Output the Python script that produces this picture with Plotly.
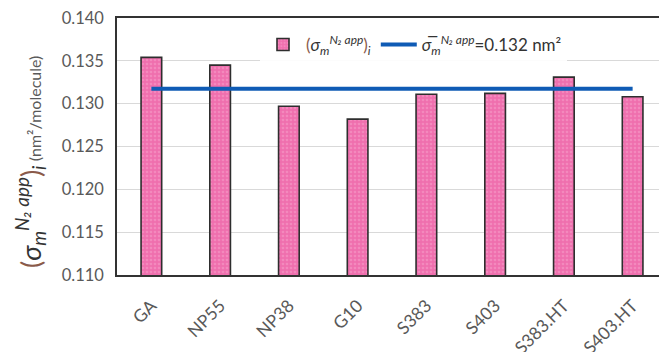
import plotly.graph_objects as go

categories = ["GA", "NP55", "NP38", "G10", "S383", "S403", "S383.HT", "S403.HT"]
values = [0.1354, 0.1345, 0.1297, 0.1282, 0.1311, 0.1312, 0.1331, 0.1308]
mean_value = 0.13175
y_ticks = [0.110, 0.115, 0.120, 0.125, 0.130, 0.135, 0.140]

paren = "#8a5a4a"
bar_name = ('<span style="color:%s">(</span><i>σ<sub>m</sub><sup>N₂ app</sup></i>'
            '<span style="color:%s">)</span><sub><i>i</i></sub>') % (paren, paren)
line_name = '<i>σ̅<sub>m</sub><sup>N₂ app</sup></i>=0.132 nm²'
y_title = ('<span style="font-size:27px;color:#333">' + bar_name + '</span>'
           ' <span style="font-size:16px;color:#595959">(nm²/molecule)</span>')

fig = go.Figure()
fig.add_trace(go.Bar(
    x=categories, y=values, name=bar_name, width=0.3,
    marker=dict(color="#EF6FAE", line=dict(color="#2e2e2e", width=1.6),
                pattern=dict(shape=".", bgcolor="#EF6FAE", fgcolor="#F7A3CC",
                             size=4, solidity=0.35)),
))
fig.add_trace(go.Scatter(
    x=categories, y=[mean_value] * len(categories), name=line_name,
    mode="lines", line=dict(color="#0F5BB5", width=4),
))

fig.add_annotation(
    text=y_title, textangle=-90, showarrow=False,
    xref="paper", yref="paper", x=-0.158, y=0.44,
    xanchor="center", yanchor="middle",
)

fig.update_layout(
    width=659, height=344,
    margin=dict(l=109, r=0, t=10, b=77, autoexpand=False),
    paper_bgcolor="white", plot_bgcolor="white",
    font=dict(family="Lato, sans-serif", color="#595959", size=17),
    bargap=0.7,
    showlegend=True,
    legend=dict(orientation="h", x=0.26, y=0.965, xanchor="left", yanchor="top",
                bgcolor="rgba(255,255,255,0.9)", font=dict(size=17, color="#333333"),
                itemwidth=36, tracegroupgap=0),
    xaxis=dict(showline=True, linecolor="#333333", linewidth=1.5, mirror=True,
               automargin=False, ticks="", tickangle=-45, ticklabelstandoff=12,
               tickfont=dict(size=17.5, color="#595959")),
    yaxis=dict(range=[0.110, 0.140], tickvals=y_ticks, tickformat=".3f",
               automargin=False, ticklabeloverflow="allow",
               showgrid=True, gridcolor="#d9d9d9", gridwidth=1,
               showline=True, linecolor="#333333", linewidth=1.5, mirror=True,
               ticks="", ticklabelstandoff=8, tickfont=dict(size=16.5, color="#595959")),
)
fig.write_html("out.html")
